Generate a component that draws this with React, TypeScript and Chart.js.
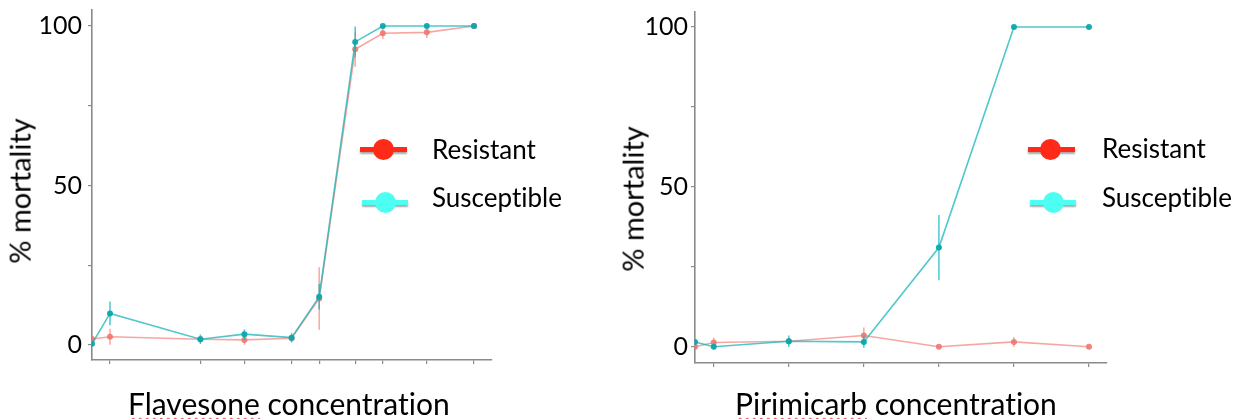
import React, { useEffect, useRef } from 'react';
import { Chart, registerables } from 'chart.js';

Chart.register(...registerables);

// ---------- Data ----------
// Flavesone panel (x = position of concentration on an unlabeled axis)
const flavesoneDose = [0, 0.45, 2.71, 3.81, 4.99, 5.68, 6.58, 7.27, 8.37, 9.55];
const flavesoneResistant = [1.9, 2.6, 1.8, 1.6, 2.1, 14.6, 92.7, 97.7, 98.0, 100];
const flavesoneResistantErr = [0.8, 2.5, 1.0, 1.5, 1.0, 9.8, 5.5, 1.8, 1.8, 0];
const flavesoneSusceptible = [0.4, 9.9, 1.8, 3.4, 2.3, 15.1, 95.0, 100, 100, 100];
const flavesoneSusceptibleErr = [0.5, 3.7, 1.5, 1.5, 1.5, 4.0, 4.8, 0, 0, 0];

// Pirimicarb panel
const pirimicarbDose = [0, 0.25, 1.25, 2.25, 3.25, 4.25, 5.25];
const pirimicarbResistant = [0, 1.3, 1.7, 3.5, 0, 1.5, 0];
const pirimicarbResistantErr = [0.5, 1.5, 1.0, 2.5, 0, 1.5, 0];
const pirimicarbSusceptible = [1.5, 0, 1.7, 1.5, 31.0, 100, 100];
const pirimicarbSusceptibleErr = [0.5, 0.5, 1.8, 1.8, 10.2, 0, 0];

const yTicks = [0, 25, 50, 75, 100];
const yTickLabels = ['0', '', '50', '', '100'];
const seriesNames = ['Resistant', 'Susceptible'];
const xTitles = ['Flavesone concentration', 'Pirimicarb concentration'];
const yTitle = '% mortality';

// ---------- Styles ----------
const RED_LINE = 'rgba(243,128,122,0.7)';
const RED_PT = 'rgba(238,120,114,0.9)';
const CYAN_LINE = 'rgba(20,180,186,0.75)';
const CYAN_PT = 'rgba(10,168,174,0.95)';
const AXIS = '#8a8a8a';
const LEG_RED = '#ff2a18';
const LEG_CYAN = '#4dfff2';
const FONT = 'Lato, "Open Sans", sans-serif';

const errorBarPlugin = {
  id: 'errorBars',
  beforeDatasetDraw(chart: any, args: any) {
    const ds: any = chart.data.datasets[args.index];
    const errs: number[] = ds.errors;
    if (!errs) return;
    const xs = chart.scales.x;
    const ys = chart.scales.y;
    const ctx = chart.ctx;
    ctx.save();
    ctx.strokeStyle = ds.borderColor;
    ctx.lineWidth = 1.5;
    ds.data.forEach((pt: any, i: number) => {
      const e = errs[i];
      if (!e) return;
      const px = xs.getPixelForValue(pt.x);
      ctx.beginPath();
      ctx.moveTo(px, ys.getPixelForValue(pt.y - e));
      ctx.lineTo(px, ys.getPixelForValue(pt.y + e));
      ctx.stroke();
    });
    ctx.restore();
  },
};

type PanelCfg = {
  dose: number[];
  res: number[];
  resErr: number[];
  sus: number[];
  susErr: number[];
  xMax: number;
  yMin: number;
  yMax: number;
  yAxisWidth: number;
  xAxisHeight: number;
  padTop: number;
  padRight: number;
  tickPad: number;
};

function makeConfig(p: PanelCfg): any {
  const mk = (vals: number[]) => p.dose.map((x, i) => ({ x, y: vals[i] }));
  return {
    type: 'line',
    data: {
      datasets: [
        {
          label: seriesNames[0],
          data: mk(p.res),
          errors: p.resErr,
          borderColor: RED_LINE,
          backgroundColor: RED_PT,
          pointBackgroundColor: RED_PT,
          pointRadius: 3,
          pointBorderWidth: 0,
          borderWidth: 1.6,
          tension: 0,
          order: 1,
        },
        {
          label: seriesNames[1],
          data: mk(p.sus),
          errors: p.susErr,
          borderColor: CYAN_LINE,
          backgroundColor: CYAN_PT,
          pointBackgroundColor: CYAN_PT,
          pointRadius: 3,
          pointBorderWidth: 0,
          borderWidth: 1.6,
          tension: 0,
          order: 0,
        },
      ],
    },
    options: {
      responsive: false,
      animation: false,
      layout: { padding: { left: 0, right: p.padRight, top: p.padTop, bottom: 0 } },
      plugins: { legend: { display: false }, tooltip: { enabled: false } },
      scales: {
        x: {
          type: 'linear',
          min: 0,
          max: p.xMax,
          afterBuildTicks: (s: any) => {
            s.ticks = p.dose.slice(1).map((v) => ({ value: v }));
          },
          ticks: { display: false },
          grid: { drawOnChartArea: false, drawTicks: true, tickLength: 4, color: AXIS, lineWidth: 1.2 },
          border: { display: true, color: AXIS, width: 1.6 },
          afterFit: (s: any) => {
            s.height = p.xAxisHeight;
            s.paddingLeft = 0;
            s.paddingRight = 0;
          },
        },
        y: {
          type: 'linear',
          min: p.yMin,
          max: p.yMax,
          afterBuildTicks: (s: any) => {
            s.ticks = yTicks.map((v) => ({ value: v }));
          },
          ticks: {
            autoSkip: false,
            callback: (v: number) => {
              const i = yTicks.indexOf(v);
              return i >= 0 ? yTickLabels[i] : '';
            },
            font: { family: FONT, size: 25 },
            color: '#000',
            padding: p.tickPad,
          },
          grid: { drawOnChartArea: false, drawTicks: true, tickLength: 4, color: AXIS, lineWidth: 1.2 },
          border: { display: true, color: AXIS, width: 1.6 },
          afterFit: (s: any) => {
            s.width = p.yAxisWidth;
            s.paddingTop = 0;
            s.paddingBottom = 0;
          },
        },
      },
    },
    plugins: [errorBarPlugin],
  };
}

function Panel({ cfg, left, width }: { cfg: PanelCfg; left: number; width: number }) {
  const ref = useRef<HTMLCanvasElement>(null);
  useEffect(() => {
    const chart = new Chart(ref.current as HTMLCanvasElement, makeConfig(cfg));
    return () => chart.destroy();
  }, []);
  return (
    <canvas
      ref={ref}
      width={width}
      height={419}
      style={{ position: 'absolute', left, top: 0, width, height: 419 }}
    />
  );
}

function LegendItem({
  color,
  lineLeft,
  lineWidth,
  cx,
  cy,
  textLeft,
  textTop,
  label,
}: {
  color: string;
  lineLeft: number;
  lineWidth: number;
  cx: number;
  cy: number;
  textLeft: number;
  textTop: number;
  label: string;
}) {
  return (
    <>
      <div
        style={{
          position: 'absolute',
          left: lineLeft,
          top: cy - 2.5,
          width: lineWidth,
          height: 5,
          background: color,
          boxShadow: '0 2px 2px rgba(0,0,0,0.35)',
        }}
      />
      <div
        style={{
          position: 'absolute',
          left: cx - 10.5,
          top: cy - 10.5,
          width: 21,
          height: 21,
          borderRadius: '50%',
          background: color,
        }}
      />
      <div
        style={{
          position: 'absolute',
          left: textLeft,
          top: textTop,
          fontFamily: FONT,
          fontSize: 26,
          lineHeight: '26px',
          color: '#000',
          whiteSpace: 'nowrap',
          fontVariantLigatures: 'none',
        }}
      >
        {label}
      </div>
    </>
  );
}

function YTitle({ cx, cy }: { cx: number; cy: number }) {
  return (
    <div
      style={{
        position: 'absolute',
        left: cx,
        top: cy,
        transform: 'translate(-50%, -50%) rotate(-90deg)',
        fontFamily: FONT,
        fontSize: 29,
        lineHeight: 1.2,
        whiteSpace: 'nowrap',
        color: '#000',
        fontVariantLigatures: 'none',
      }}
    >
      {yTitle}
    </div>
  );
}

function XTitle({ left, text }: { left: number; text: string }) {
  const sp = text.indexOf(' ');
  const first = text.slice(0, sp);
  const rest = text.slice(sp);
  return (
    <div
      style={{
        position: 'absolute',
        left,
        top: 385,
        fontFamily: FONT,
        fontSize: 30,
        lineHeight: '36px',
        whiteSpace: 'nowrap',
        color: '#000',
        fontVariantLigatures: 'none',
      }}
    >
      <span
        style={{
          textDecorationLine: 'underline',
          textDecorationStyle: 'wavy',
          textDecorationColor: '#e8413a',
          textDecorationThickness: '1px',
          textUnderlineOffset: '2px',
        }}
      >
        {first}
      </span>
      {rest}
    </div>
  );
}

const leftCfg: PanelCfg = {
  dose: flavesoneDose,
  res: flavesoneResistant,
  resErr: flavesoneResistantErr,
  sus: flavesoneSusceptible,
  susErr: flavesoneSusceptibleErr,
  xMax: 10,
  yMin: -4.7,
  yMax: 105,
  yAxisWidth: 92,
  xAxisHeight: 59,
  padTop: 10,
  padRight: 108,
  tickPad: 6,
};

const rightCfg: PanelCfg = {
  dose: pirimicarbDose,
  res: pirimicarbResistant,
  resErr: pirimicarbResistantErr,
  sus: pirimicarbSusceptible,
  susErr: pirimicarbSusceptibleErr,
  xMax: 5.49,
  yMin: -5.1,
  yMax: 104.7,
  yAxisWidth: 95,
  xAxisHeight: 56,
  padTop: 12,
  padRight: 134,
  tickPad: 3,
};

export default function App() {
  return (
    <div
      style={{
        position: 'fixed',
        left: 0,
        top: 0,
        width: 1241,
        height: 419,
        overflow: 'hidden',
        background: '#fff',
      }}
    >
      <Panel cfg={leftCfg} left={0} width={600} />
      <Panel cfg={rightCfg} left={600} width={641} />

      <YTitle cx={20} cy={191} />
      <YTitle cx={633} cy={199} />

      <XTitle left={128} text={xTitles[0]} />
      <XTitle left={735} text={xTitles[1]} />

      <LegendItem color={LEG_RED} lineLeft={360} lineWidth={47} cx={383} cy={149} textLeft={432} textTop={136} label={seriesNames[0]} />
      <LegendItem color={LEG_CYAN} lineLeft={362} lineWidth={46} cx={385} cy={202} textLeft={432} textTop={184} label={seriesNames[1]} />
      <LegendItem color={LEG_RED} lineLeft={1028} lineWidth={47} cx={1050} cy={149} textLeft={1102} textTop={135} label={seriesNames[0]} />
      <LegendItem color={LEG_CYAN} lineLeft={1030} lineWidth={46} cx={1053} cy={202} textLeft={1102} textTop={184} label={seriesNames[1]} />
    </div>
  );
}
